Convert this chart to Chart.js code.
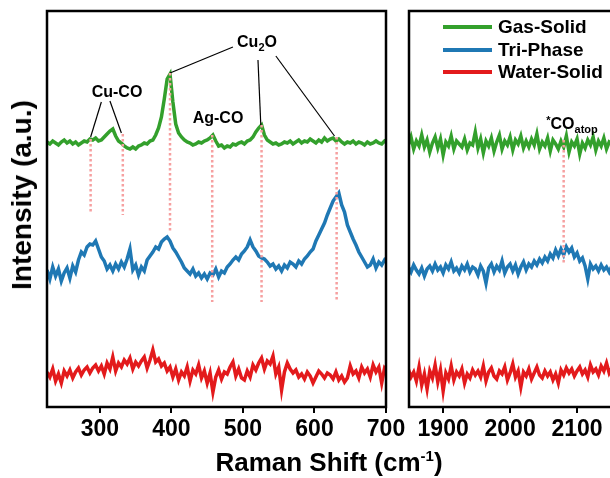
<!DOCTYPE html>
<html lang="en">
<head>
<meta charset="UTF-8">
<title>Raman Spectra</title>
<script src="https://cdn.jsdelivr.net/npm/chart.js@4"></script>
<style>
  html, body { margin: 0; padding: 0; background: #fff; overflow: hidden; }
  #figure {
    position: relative; width: 610px; height: 478px; overflow: hidden;
    font-family: 'Liberation Sans', Arial, sans-serif; font-weight: bold; color: #000;
  }
  #figure canvas { position: absolute; top: 0; }
  .tag { position: absolute; white-space: nowrap; line-height: 1; transform: translate(-50%, -50%); font-size: 16px; }
  .tag sub { font-size: 11px; vertical-align: -4px; line-height: 0; }
  .tag sup { font-size: 11px; vertical-align: 5px; line-height: 0; }
  .legend-row { position: absolute; left: 443px; height: 22px; display: flex; align-items: center; font-size: 19px; }
  .legend-row span.swatch { display: inline-block; width: 49px; height: 3.5px; margin-right: 6px; }
  #xTitle { position: absolute; left: 329px; top: 462px; transform: translate(-50%, -50%); font-size: 26px; white-space: nowrap; line-height: 1; }
  #xTitle sup { font-size: 15px; vertical-align: 10px; line-height: 0; }
  #yTitle { position: absolute; left: 22px; top: 195px; transform: translate(-50%, -50%) rotate(-90deg); font-size: 28px; white-space: nowrap; line-height: 1; }
</style>
</head>
<body>
<div id="figure">
  <canvas id="lowRange" width="420" height="478" style="left:0"></canvas>
  <canvas id="highRange" width="240" height="478" style="left:400px"></canvas>

  <div class="tag" style="left:117px; top:92px">Cu-CO</div>
  <div class="tag" style="left:257px; top:42px">Cu<sub>2</sub>O</div>
  <div class="tag" style="left:218px; top:118px">Ag-CO</div>
  <div class="tag" style="left:572px; top:124px"><sup>*</sup>CO<sub>atop</sub></div>

  <div class="legend-row" style="top:16px"><span class="swatch" style="background:#33a02c"></span>Gas-Solid</div>
  <div class="legend-row" style="top:39px"><span class="swatch" style="background:#1f78b4"></span>Tri-Phase</div>
  <div class="legend-row" style="top:61px"><span class="swatch" style="background:#e31a1c"></span>Water-Solid</div>

  <div id="xTitle">Raman Shift (cm<sup>-1</sup>)</div>
  <div id="yTitle">Intensity (a.u.)</div>
</div>

<script>
  // sampling grids (cm-1)
  const ramanLow = Array.from({ length: 120 }, (_, i) => 226 + 4 * i);
  const ramanHigh = Array.from({ length: 79 }, (_, i) => 1848 + 4 * i);

  // stacked intensities, 226-702 cm-1
  const gasLow = [
    265, 263, 266, 264, 262, 265, 267, 264, 266, 263,
    265, 262, 264, 266, 265, 268, 267, 269, 266, 267,
    270, 273, 276, 278, 271, 266, 264, 261, 259, 258,
    260, 258, 261, 262, 264, 263, 266, 267, 272, 279,
    290, 308, 328, 333, 305, 283, 274, 270, 267, 265,
    264, 262, 263, 265, 264, 266, 267, 269, 272, 266,
    261, 262, 259, 261, 260, 263, 262, 264, 265, 263,
    266, 267, 270, 275, 279, 282, 272, 267, 265, 263,
    264, 262, 263, 265, 264, 266, 263, 265, 267, 264,
    266, 265, 268, 266, 264, 267, 265, 269, 266, 268,
    269, 266, 268, 265, 263, 265, 264, 266, 263, 265,
    264, 262, 265, 263, 264, 266, 264, 263, 266, 264
  ];
  const triLow = [
    137, 128, 140, 131, 138, 126, 134, 139, 129, 141,
    135, 147, 155, 152, 160, 163, 162, 166, 158, 150,
    146, 138, 142, 136, 143, 138, 145, 140, 148, 158,
    137, 142, 132, 140, 136, 147, 151, 155, 160, 158,
    165, 168, 170, 166, 159, 155, 150, 145, 139, 136,
    133, 138, 131, 134, 129, 133, 128, 134, 132, 138,
    130, 136, 134, 140, 143, 147, 150, 147, 153, 156,
    160, 167, 160, 156, 151, 149, 148, 145, 141, 143,
    138, 141, 136, 142, 139, 145, 143, 140, 146, 143,
    148, 151, 155, 158, 166, 172, 178, 184, 192, 199,
    206, 210, 214, 202, 195, 182, 175, 168, 162, 155,
    150, 145, 140, 142, 148, 139, 145, 142, 147, 144
  ];
  const waterLow = [
    35, 30, 38, 26, 33, 24, 36, 31, 37, 29,
    35, 39, 32, 37, 40, 34, 39, 42, 36, 41,
    33, 44, 38, 50, 36, 44, 40, 47, 43, 49,
    38, 45, 41, 46, 50, 39, 47, 57, 45, 48,
    41, 44, 36, 40, 30, 38, 27, 35, 31, 40,
    26, 37, 33, 42, 29, 36, 24, 34, 15, 30,
    37, 28, 35, 33, 40, 45, 31, 38, 29, 27,
    36, 30, 42, 37, 44, 49, 38, 46, 43, 51,
    33, 40, 17, 35, 44, 38, 34, 37, 30, 33,
    28, 35, 31, 24, 30, 36, 33, 29, 34, 32,
    28, 35, 27, 31, 25, 29, 41, 33, 36, 29,
    40, 34, 38, 30, 42, 35, 40, 24, 39, 36
  ];

  // 1848-2160 cm-1
  const gasHigh = [
    262, 270, 258, 266, 261, 272, 260, 267, 255, 264,
    270, 259, 268, 252, 265, 261, 271, 258, 266, 263,
    260, 268, 257, 264, 262, 275, 259, 268, 254, 266,
    261, 269, 256, 265, 272, 258, 266, 262, 270, 257,
    267, 263, 271, 259, 266, 260, 268, 262, 273, 258,
    265, 261, 269, 256, 267, 263, 258, 266, 260, 271,
    255, 265, 261, 268, 253, 264, 259, 267, 262, 270,
    257, 266, 261, 269, 258, 265, 263, 268, 261
  ];
  const triHigh = [
    140, 135, 142, 137, 133, 139, 131, 138, 141, 136,
    143, 137, 140, 134, 142, 138, 145, 136, 139, 134,
    141, 137, 143, 135, 140, 138, 132, 141, 136, 124,
    139, 143, 135, 141, 137, 146, 134, 140, 143, 136,
    142, 133, 140, 145, 137, 143, 140, 146, 142, 148,
    144, 150, 146, 153, 149, 157, 151, 158, 152, 160,
    155, 159, 150, 154, 146, 149, 141, 128, 143, 138,
    141, 136, 142, 137, 140, 135, 141, 138, 140
  ];
  const waterHigh = [
    38, 30, 35, 26, 40, 22, 33, 18, 36, 29,
    42, 25, 37, 16, 34, 28, 41, 27, 35, 31,
    38, 24, 33, 29, 37, 32, 36, 30, 41, 26,
    35, 39, 31, 28, 36, 33, 40, 27, 34, 43,
    30, 36, 20, 35, 31, 38, 28, 34, 40, 32,
    29, 36, 31, 35, 27, 33, 24, 37, 32, 39,
    34, 38, 31, 36, 40, 33, 37, 30, 42, 35,
    38, 32, 41, 36, 44, 34, 39, 33, 37
  ];

  // dotted peak markers: position, upper end, lower end
  const peaksLow = [287, 332, 398, 457, 526, 631];
  const peakTopLow = [268, 273, 334, 272, 282, 270];
  const peakBottomLow = [194, 192, 174, 105, 105, 107];
  const peaksHigh = [2080];
  const peakTopHigh = [267];
  const peakBottomHigh = [142];

  // label leader lines: [x0, y0, x1, y1]
  const leaders = [
    [302, 305, 287, 270],
    [314, 306, 330, 274],
    [486, 360, 398, 334],
    [521, 347, 525, 281],
    [546, 351, 628, 271]
  ];

  const GREEN = '#33a02c', BLUE = '#1f78b4', RED = '#e31a1c', MARK = '#f6a0a0';

  Chart.defaults.font.family = "'Liberation Sans', Arial, sans-serif";
  Chart.defaults.color = '#000';

  const boxFrame = {
    id: 'boxFrame',
    afterDatasetsDraw(chart) {
      const { ctx, chartArea: a } = chart;
      ctx.save();
      ctx.strokeStyle = '#000';
      ctx.lineWidth = 2.5;
      ctx.strokeRect(a.left, a.top, a.right - a.left, a.bottom - a.top);
      ctx.restore();
    }
  };

  function pairs(xs, ys) {
    return xs.map((x, i) => ({ x: x, y: ys[i] }));
  }

  function spectrum(xs, ys, color) {
    return { data: pairs(xs, ys), borderColor: color, borderWidth: 3.5, pointRadius: 0, tension: 0 };
  }

  function markers(xs, tops, bottoms) {
    return xs.map((x, i) => ({
      data: [{ x: x, y: tops[i] }, { x: x, y: bottoms[i] }],
      borderColor: MARK, borderWidth: 2.5, borderDash: [2.5, 2.5], pointRadius: 0
    }));
  }

  function xAxis(min, max, ticks) {
    return {
      type: 'linear', min: min, max: max,
      afterBuildTicks: s => { s.ticks = ticks.map(v => ({ value: v })); },
      afterFit: s => { s.height = 71; },
      grid: { display: true, drawOnChartArea: false, drawTicks: true, tickLength: 6, color: '#000', lineWidth: 2 },
      border: { display: false },
      ticks: { font: { size: 23, weight: 'bold' }, padding: 3, color: '#000', maxRotation: 0, callback: v => String(v) }
    };
  }

  const yAxis = { display: false, min: 0, max: 396 };

  const leaderSets = leaders.map(l => ({
    data: [{ x: l[0], y: l[1] }, { x: l[2], y: l[3] }],
    borderColor: '#000', borderWidth: 1.2, pointRadius: 0
  }));

  new Chart(document.getElementById('lowRange'), {
    type: 'line',
    data: {
      datasets: [
        ...markers(peaksLow, peakTopLow, peakBottomLow),
        ...leaderSets,
        spectrum(ramanLow, gasLow, GREEN),
        spectrum(ramanLow, triLow, BLUE),
        spectrum(ramanLow, waterLow, RED)
      ]
    },
    options: {
      responsive: false, animation: false, devicePixelRatio: 1,
      layout: { padding: { left: 47, top: 11, right: 34, bottom: 0 } },
      plugins: { legend: { display: false }, tooltip: { enabled: false } },
      scales: { x: xAxis(226, 700, [300, 400, 500, 600, 700]), y: yAxis }
    },
    plugins: [boxFrame]
  });

  new Chart(document.getElementById('highRange'), {
    type: 'line',
    data: {
      datasets: [
        ...markers(peaksHigh, peakTopHigh, peakBottomHigh),
        spectrum(ramanHigh, gasHigh, GREEN),
        spectrum(ramanHigh, triHigh, BLUE),
        spectrum(ramanHigh, waterHigh, RED)
      ]
    },
    options: {
      responsive: false, animation: false, devicePixelRatio: 1,
      layout: { padding: { left: 9, top: 11, right: 0, bottom: 0 } },
      plugins: { legend: { display: false }, tooltip: { enabled: false } },
      scales: { x: xAxis(1849, 2194, [1900, 2000, 2100]), y: yAxis }
    },
    plugins: [boxFrame]
  });
</script>
</body>
</html>
